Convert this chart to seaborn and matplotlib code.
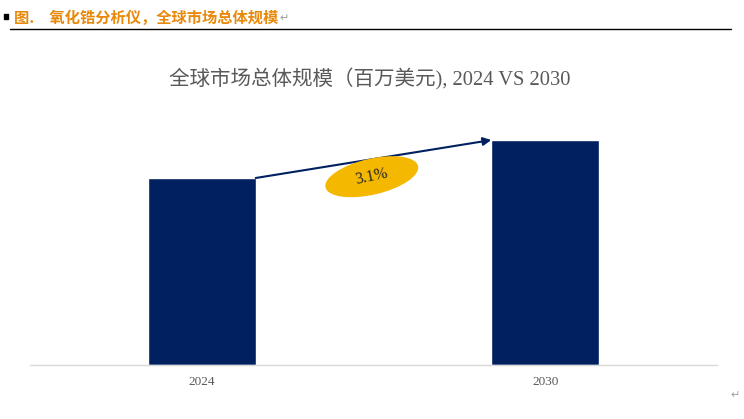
import numpy as np
import pandas as pd
import matplotlib
matplotlib.use('Agg')
import matplotlib.pyplot as plt
from matplotlib.patches import Ellipse, Rectangle
from matplotlib.transforms import IdentityTransform
import seaborn as sns

# data (relative sizes, 2030 / 2024 ~ 1.031^6)
years = ['2024', '2030']
market_size = [100.0, 120.3]
cagr_label = '3.1%'

header_text = '图.\u3000氧化锆分析仪，全球市场总体规模'
chart_title = '全球市场总体规模（百万美元), 2024 VS 2030'

navy = '#002060'
gold = '#F5B800'
grey_text = '#595959'

sns.set_theme(style='white')
plt.rcParams['font.family'] = ['Liberation Serif', 'Noto Sans CJK SC', 'DejaVu Sans']

df = pd.DataFrame({'year': years, 'size': market_size})

fig = plt.figure(figsize=(7.44, 4.19), dpi=100)
ax = fig.add_axes([30 / 744, 54 / 419, 687 / 744, 250 / 419])

sns.barplot(data=df, x='year', y='size', color=navy, width=0.314,
            saturation=1, ax=ax)
ax.set_xlim(-0.5, 1.5)
ax.set_ylim(0, market_size[0] * 250 / 187)

# only the baseline is visible
for side in ['top', 'left', 'right']:
    ax.spines[side].set_visible(False)
ax.spines['bottom'].set_color('#D9D9D9')
ax.spines['bottom'].set_linewidth(1)
ax.set_yticks([])
ax.set_xlabel('')
ax.set_ylabel('')
ax.tick_params(axis='x', length=0, pad=8, labelsize=9.5, labelcolor=grey_text)

# growth arrow from top of 2024 bar to top of 2030 bar
half = 0.314 / 2
ax.annotate('', xy=(1 - half, market_size[1]), xytext=(0 + half, market_size[0]),
            arrowprops=dict(arrowstyle='-|>', color=navy, lw=1.5,
                            mutation_scale=12, shrinkA=0, shrinkB=0))

# CAGR bubble, drawn in pixel units so it keeps its shape
bx, by = 0.495, market_size[0] * 1.007
cx, cy = ax.transData.transform((bx, by))
bubble = Ellipse((cx, cy), 95, 36, angle=13, facecolor=gold, edgecolor='none',
                 transform=IdentityTransform(), zorder=3, clip_on=False)
ax.add_artist(bubble)
ax.text(bx, by, cagr_label, ha='center', va='center',
        rotation=12, fontsize=11.5, color='#262626', zorder=4)

# chart title
fig.text(370 / 744, 1 - 79 / 419, chart_title, ha='center', va='center',
         fontsize=14.8, color=grey_text)

# document header above the chart
fig.patches.append(Rectangle((4 / 744, 1 - 19 / 419), 4 / 744, 5 / 419,
                             transform=fig.transFigure, color='black'))
fig.text(14 / 744, 1 - 18 / 419, header_text, ha='left', va='center',
         fontsize=11, fontweight='bold', color='#E8890C',
         family=['Noto Sans CJK SC', 'DejaVu Sans'])
fig.text(279 / 744, 1 - 18 / 419, '↵', ha='left', va='center', fontsize=8,
         color='#A0A0A0', family=['DejaVu Sans'])
fig.add_artist(plt.Line2D([10 / 744, 731 / 744], [1 - 29.5 / 419, 1 - 29.5 / 419],
                          transform=fig.transFigure, color='black', lw=1))
fig.text(735 / 744, 1 - 395 / 419, '↵', ha='center', va='center', fontsize=8,
         color='#A0A0A0', family=['DejaVu Sans'])

fig.savefig('out.png', dpi=100)
